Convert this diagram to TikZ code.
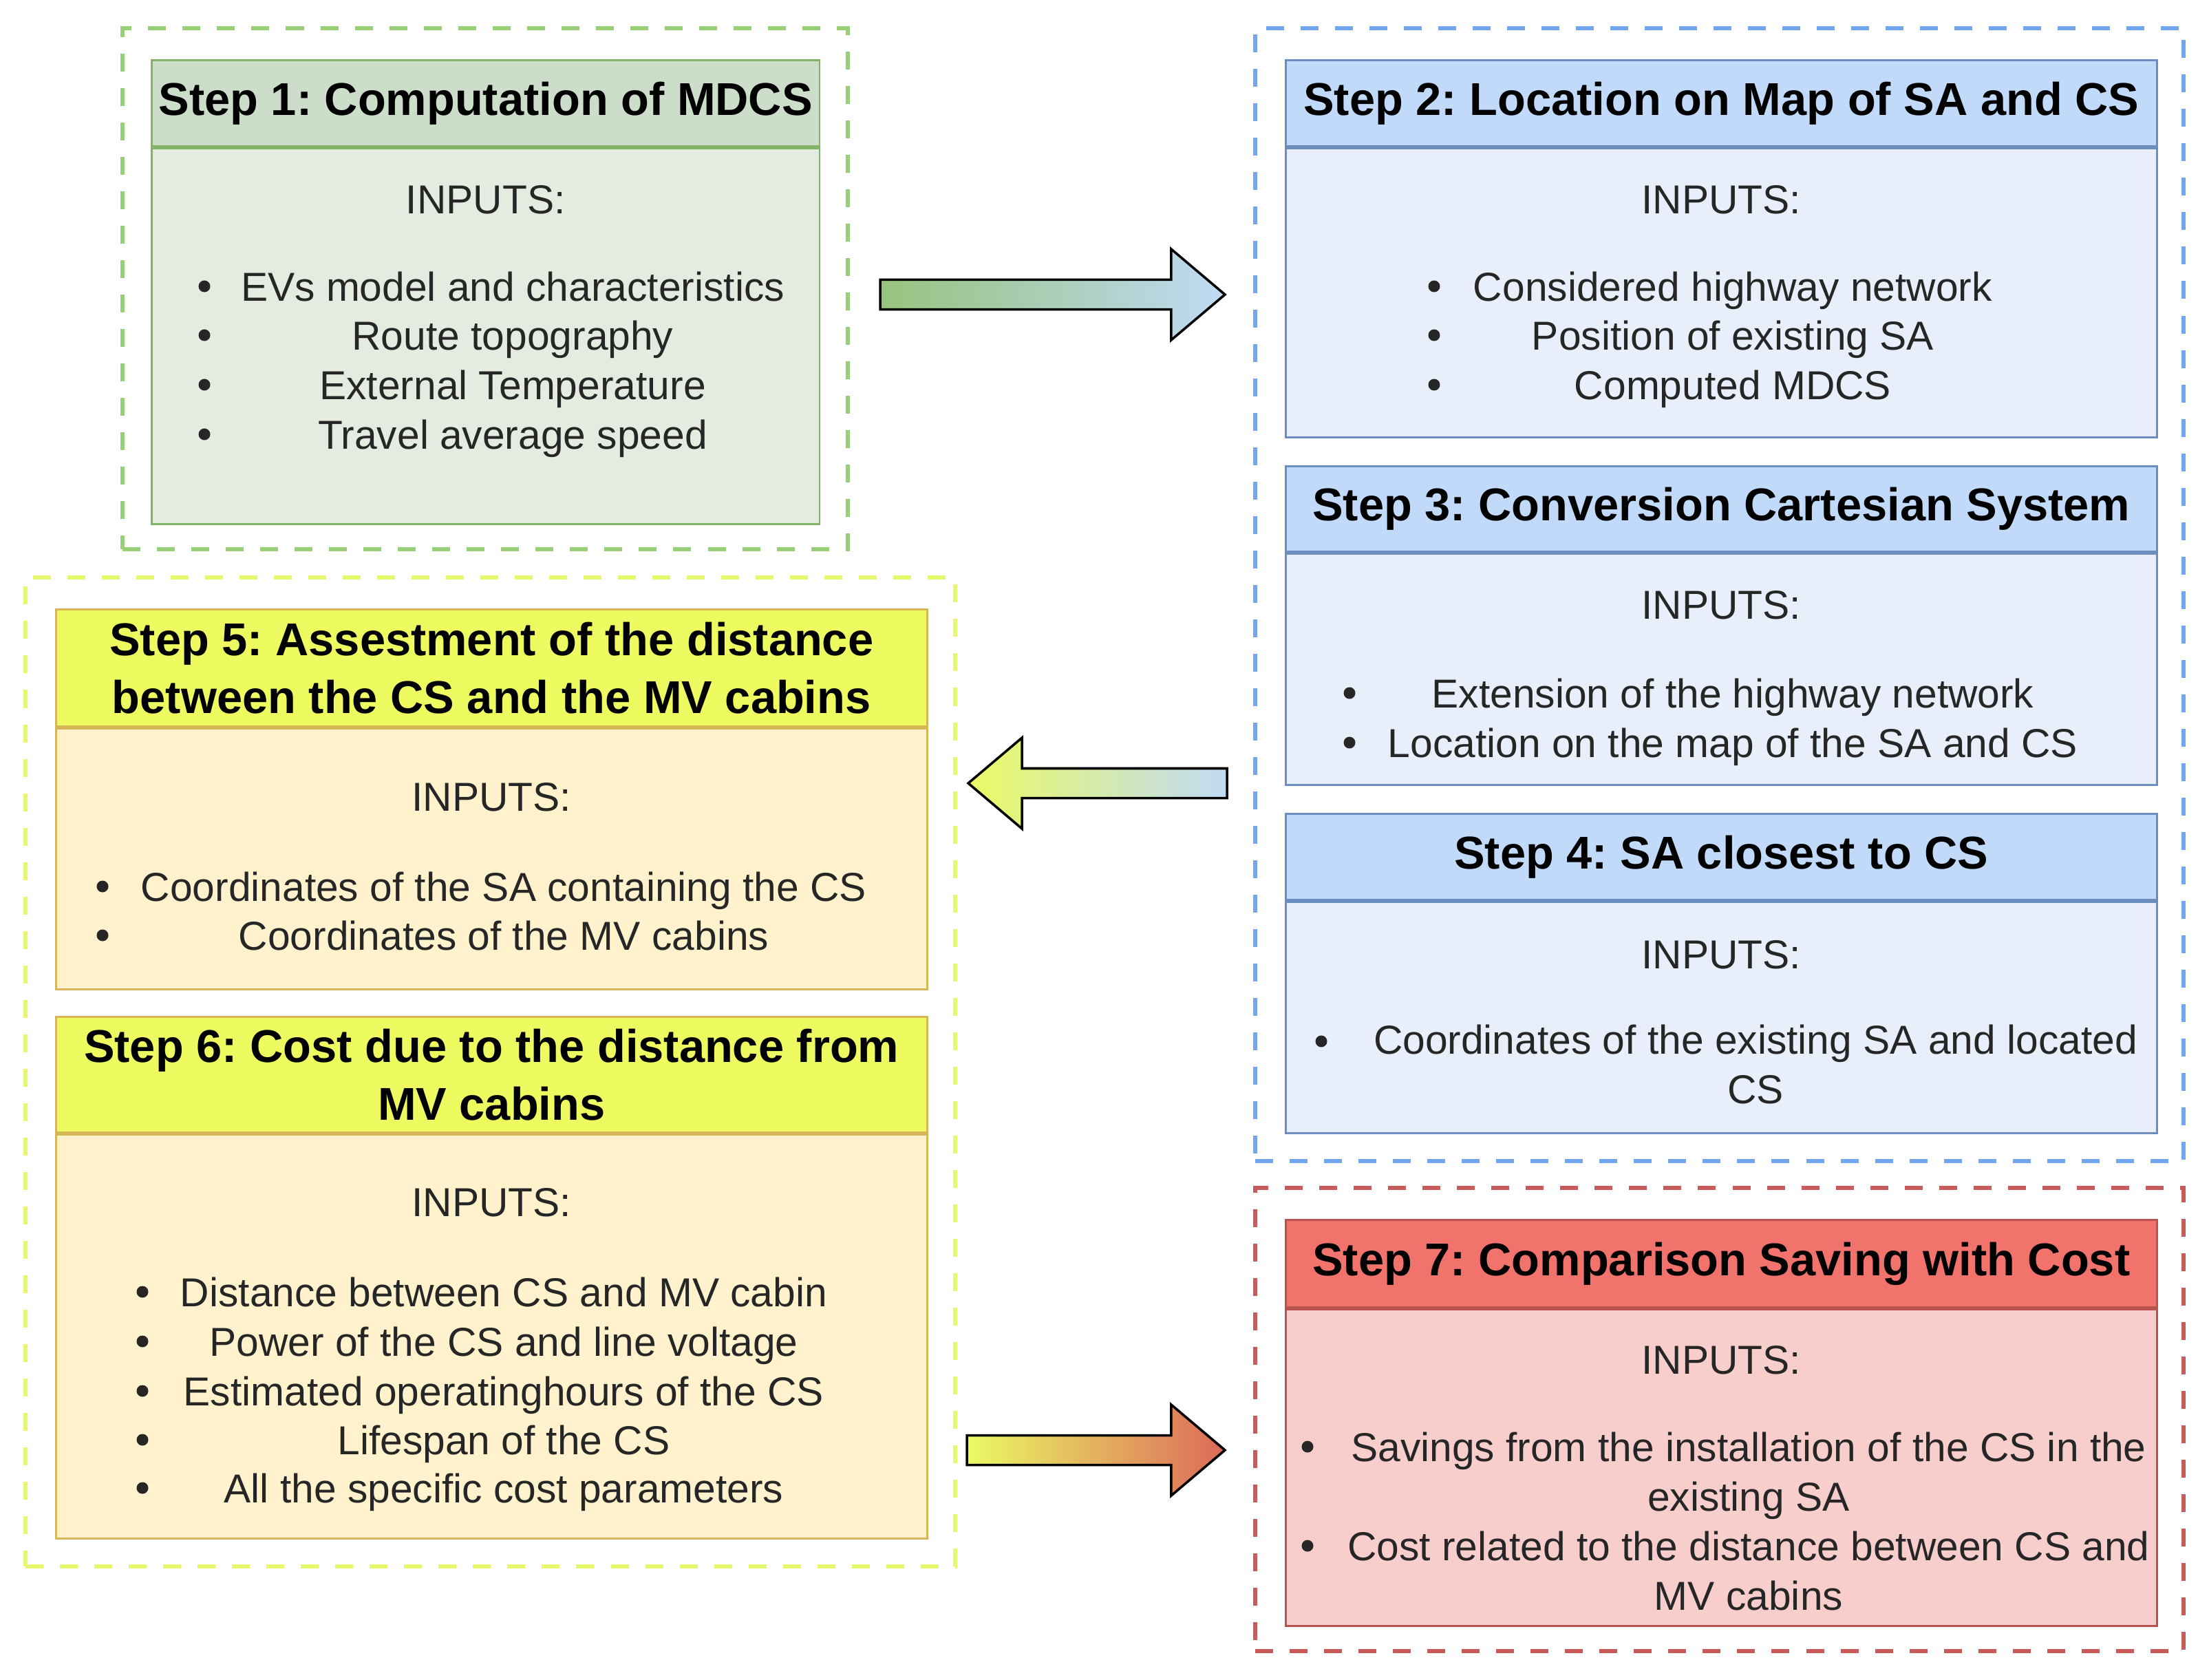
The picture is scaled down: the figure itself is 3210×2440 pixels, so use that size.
\documentclass[tikz,border=0pt]{standalone}
\usepackage{fontspec}
\setmainfont{Liberation Sans}
\usetikzlibrary{positioning,calc,fit}
\frenchspacing

\definecolor{grnline}{HTML}{82B366}
\definecolor{grnhead}{HTML}{CCDDCA}
\definecolor{grnbody}{HTML}{E4EBE1}
\definecolor{grndash}{HTML}{97D077}
\definecolor{bluline}{HTML}{6C8EBF}
\definecolor{bluhead}{HTML}{C2DAFA}
\definecolor{blubody}{HTML}{E8EFFA}
\definecolor{bludash}{HTML}{72A7EE}
\definecolor{yelline}{HTML}{D6B656}
\definecolor{yelhead}{HTML}{EDFB60}
\definecolor{yelbody}{HTML}{FFF2CC}
\definecolor{yeldash}{HTML}{E8F86E}
\definecolor{redline}{HTML}{B85450}
\definecolor{redhead}{HTML}{F2736B}
\definecolor{redbody}{HTML}{F8CECC}
\definecolor{reddash}{HTML}{C85A5A}
\definecolor{arrgreen}{HTML}{96C37D}
\definecolor{arrblue}{HTML}{C0DAF5}
\definecolor{arryellow}{HTML}{EBFA64}
\definecolor{arrred}{HTML}{DC695A}
\colorlet{item text}{black!85}

\newcommand\headfont{\fontsize{19}{23.9}\selectfont\bfseries}
\newcommand\itemfont{\fontsize{16.7}{20.4}\selectfont}

\tikzset{
  stepgroup/.style={draw=#1, line width=1.5pt, dash pattern=on 0.26cm off 0.24cm, inner sep=0pt},
  stephead/.style={draw=#1line, fill=#1head, line width=0.8pt, font=\headfont, align=center,
    inner sep=0pt, anchor=north west},
  stepbody/.style={draw=#1line, fill=#1body, line width=0.8pt, inner sep=0pt},
  stepitem/.style={font=\itemfont, text=item text, anchor=base, align=center, inner sep=0pt, yshift=-0.21cm},
  arrowline/.style={draw=black, line width=1pt, line join=miter}
  }
\tikzstyle{bulletdot}=[circle, fill=item text, inner sep=0pt, minimum size=0.17cm]

% fat arrow from #1 to #2, shading in #3
\newcommand\flexarrow[3]{%
  \coordinate (#1neck) at ($(#2)!0.78cm!(#1)$);
  \draw[arrowline, #3] ($(#1)!0.215cm!90:(#2)$) -- ($(#1neck)!0.215cm!90:(#2)$)
    -- ($(#1neck)!0.66cm!90:(#2)$) -- (#2) -- ($(#1neck)!0.66cm!-90:(#2)$)
    -- ($(#1neck)!0.215cm!-90:(#2)$) -- ($(#1)!0.215cm!-90:(#2)$) -- cycle;}

\begin{document}
\begin{tikzpicture}[x=0.01cm, y=-0.01cm]
  \useasboundingbox (0,0) rectangle (3210,2440);

  % dashed groups
  \node[stepgroup=grndash, fit={(178,41) (1232,798)}] (g1) {};
  \node[stepgroup=bludash, fit={(1824,41) (3173,1687)}] (g2) {};
  \node[stepgroup=yeldash, fit={(37,839) (1388,2276)}] (g3) {};
  \node[stepgroup=reddash, fit={(1824,1726) (3173,2399)}] (g4) {};

  % step 1
  \node[stephead=grn, minimum width=9.70cm, minimum height=1.25cm] (s1head) at (219,86) {Step 1: Computation of MDCS};
  \node[stepbody=grn, minimum width=9.70cm, minimum height=5.46cm, below=0pt of s1head] (s1body) {};
  \node[stepitem] (s1in) at (s1body.center |- 0,289) {INPUTS:};
  \foreach \y/\txt [count=\i] in {416/EVs model and characteristics, 487/Route topography,
      559/External Temperature, 631/Travel average speed} {
    \node[bulletdot] (s1dot\i) at (297,\y) {};
    \node[stepitem] (s1item\i) at (745,\y) {\txt};
  }

  % step 2
  \node[stephead=blu, minimum width=12.65cm, minimum height=1.25cm] (s2head) at (1867,86) {Step 2: Location on Map of SA and CS};
  \node[stepbody=blu, minimum width=12.65cm, minimum height=4.20cm, below=0pt of s2head] (s2body) {};
  \node[stepitem] (s2in) at (s2body.center |- 0,289) {INPUTS:};
  \foreach \y/\txt [count=\i] in {416/Considered highway network, 487/Position of existing SA,
      559/Computed MDCS} {
    \node[bulletdot] (s2dot\i) at (2084,\y) {};
    \node[stepitem] (s2item\i) at (2518,\y) {\txt};
  }

  % step 3
  \node[stephead=blu, minimum width=12.65cm, minimum height=1.24cm] (s3head) at (1867,676) {Step 3: Conversion Cartesian System};
  \node[stepbody=blu, minimum width=12.65cm, minimum height=3.36cm, below=0pt of s3head] (s3body) {};
  \node[stepitem] (s3in) at (s3body.center |- 0,878) {INPUTS:};
  \foreach \y/\txt [count=\i] in {1007/Extension of the highway network,
      1079/Location on the map of the SA and CS} {
    \node[bulletdot] (s3dot\i) at (1961,\y) {};
    \node[stepitem] (s3item\i) at (2518,\y) {\txt};
  }

  % step 4 (two-line item sits on its last line)
  \node[stephead=blu, minimum width=12.65cm, minimum height=1.25cm] (s4head) at (1867,1181) {Step 4: SA closest to CS};
  \node[stepbody=blu, minimum width=12.65cm, minimum height=3.36cm, below=0pt of s4head] (s4body) {};
  \node[stepitem] (s4in) at (s4body.center |- 0,1386) {INPUTS:};
  \node[bulletdot] (s4dot1) at (1920,1513) {};
  \node[stepitem] (s4item1) at (2551,1582) {Coordinates of the existing SA and located\\CS};

  % step 5
  \node[stephead=yel, minimum width=12.65cm, minimum height=1.70cm] (s5head) at (80,884)
    {Step 5: Assestment of the distance\\between the CS and the MV cabins};
  \node[stepbody=yel, minimum width=12.65cm, minimum height=3.79cm, below=0pt of s5head] (s5body) {};
  \node[stepitem] (s5in) at (s5body.center |- 0,1157) {INPUTS:};
  \foreach \y/\txt [count=\i] in {1288/Coordinates of the SA containing the CS,
      1359/Coordinates of the MV cabins} {
    \node[bulletdot] (s5dot\i) at (149,\y) {};
    \node[stepitem] (s5item\i) at (732,\y) {\txt};
  }

  % step 6
  \node[stephead=yel, minimum width=12.65cm, minimum height=1.68cm] (s6head) at (80,1476)
    {Step 6: Cost due to the distance from\\MV cabins};
  \node[stepbody=yel, minimum width=12.65cm, minimum height=5.87cm, below=0pt of s6head] (s6body) {};
  \node[stepitem] (s6in) at (s6body.center |- 0,1746) {INPUTS:};
  \foreach \y/\txt [count=\i] in {1877/Distance between CS and MV cabin, 1949/Power of the CS and line voltage,
      2021/Estimated operatinghours of the CS, 2092/Lifespan of the CS, 2162/All the specific cost parameters} {
    \node[bulletdot] (s6dot\i) at (207,\y) {};
    \node[stepitem] (s6item\i) at (732,\y) {\txt};
  }

  % step 7
  \node[stephead=red, minimum width=12.65cm, minimum height=1.27cm] (s7head) at (1867,1771) {Step 7: Comparison Saving with Cost};
  \node[stepbody=red, minimum width=12.65cm, minimum height=4.60cm, below=0pt of s7head] (s7body) {};
  \node[stepitem] (s7in) at (s7body.center |- 0,1975) {INPUTS:};
  \foreach \y/\txt [count=\i] in {2102/Savings from the installation of the CS in the\\existing SA,
      2246/Cost related to the distance between CS and\\MV cabins} {
    \node[bulletdot] (s7dot\i) at (1900,\y) {};
    \node[stepitem] (s7item\i) at (2541,\y+72) {\txt};
  }

  % arrows between the groups
  \coordinate (a1tail) at (1279,428);
  \coordinate (a1tip) at (1780,428);
  \flexarrow{a1tail}{a1tip}{left color=arrgreen, right color=arrblue}
  \coordinate (a2tail) at (1783,1138);
  \coordinate (a2tip) at (1407,1138);
  \flexarrow{a2tail}{a2tip}{left color=arryellow, right color=arrblue}
  \coordinate (a3tail) at (1405,2107);
  \coordinate (a3tip) at (1780,2107);
  \flexarrow{a3tail}{a3tip}{left color=arryellow, right color=arrred}
\end{tikzpicture}
\end{document}
